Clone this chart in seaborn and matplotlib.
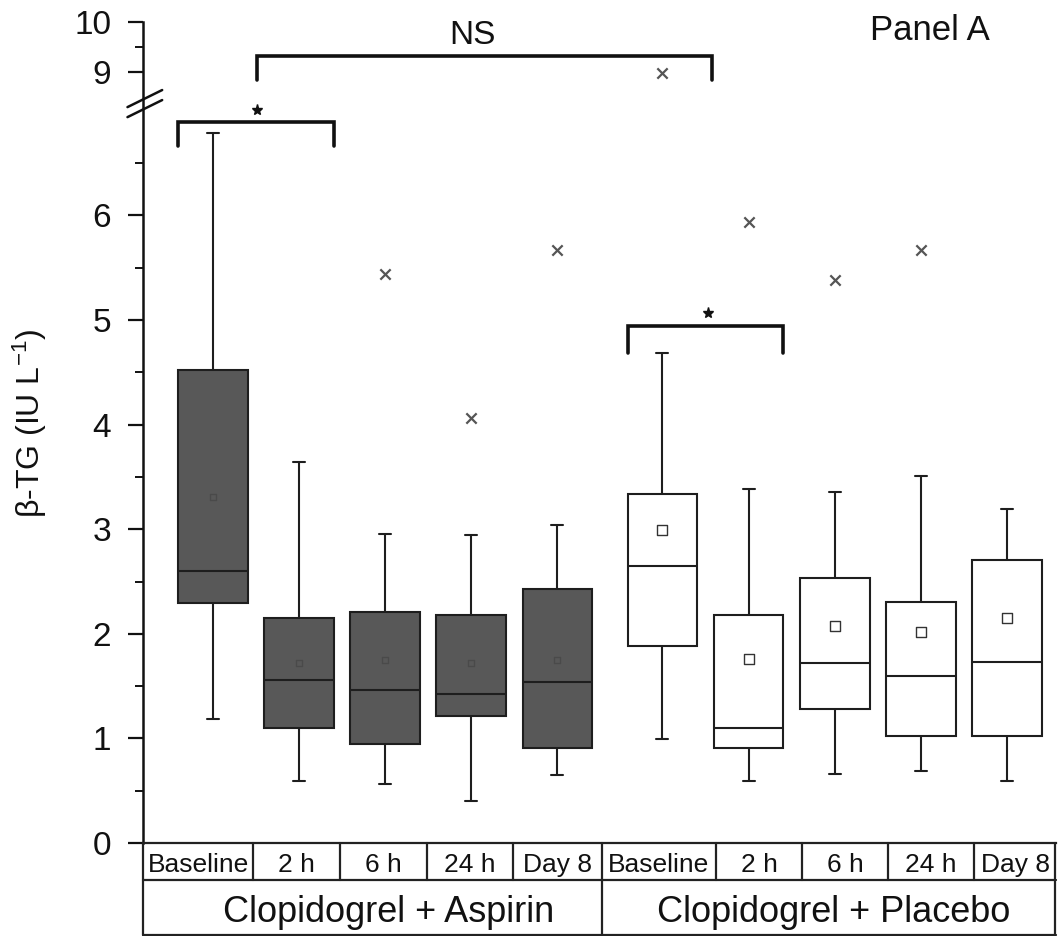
import numpy as np
import pandas as pd
import matplotlib
matplotlib.use("Agg")
import matplotlib.pyplot as plt
import seaborn as sns
from matplotlib.ticker import FixedLocator, FixedFormatter, NullFormatter

# ---------------- data ----------------
times = ["Baseline", "2 h", "6 h", "24 h", "Day 8"]
groups = ["Clopidogrel + Aspirin", "Clopidogrel + Placebo"]

asp_low = [1.19, 0.59, 0.56, 0.40, 0.65]
asp_q1 = [2.29, 1.10, 0.95, 1.21, 0.91]
asp_med = [2.60, 1.56, 1.46, 1.42, 1.54]
asp_q3 = [4.52, 2.15, 2.21, 2.18, 2.43]
asp_high = [6.79, 3.64, 2.95, 2.94, 3.04]
asp_mean = [3.31, 1.72, 1.75, 1.72, 1.75]

pla_low = [0.99, 0.59, 0.66, 0.69, 0.59]
pla_q1 = [1.88, 0.91, 1.28, 1.02, 1.02]
pla_med = [2.65, 1.10, 1.72, 1.60, 1.73]
pla_q3 = [3.34, 2.18, 2.53, 2.30, 2.71]
pla_high = [4.68, 3.38, 3.36, 3.51, 3.19]
pla_mean = [2.99, 1.76, 2.07, 2.02, 2.15]

asp_out_time = ["6 h", "24 h", "Day 8"]
asp_out_val = [5.44, 4.06, 5.67]
pla_out_time = ["Baseline", "2 h", "6 h", "24 h"]
pla_out_val = [8.97, 5.94, 5.38, 5.67]

y_major = [0, 1, 2, 3, 4, 5, 6, 9, 10]
y_minor = [0.5, 1.5, 2.5, 3.5, 4.5, 5.5, 6.5, 9.5]

# ---------------- layout / style ----------------
PLA_OFFSET = 5.22
BOX_W = 0.81
ASP_COLOR = "#585858"
LINE = "#1e1e1e"

asp_pos = np.arange(len(times), dtype=float)
pla_pos = PLA_OFFSET + np.arange(len(times), dtype=float)


def long_frame(pos, lo, q1, med, q3, hi):
    rows = []
    for p, a, b, c, d, e in zip(pos, lo, q1, med, q3, hi):
        for v in (a, b, c, d, e):
            rows.append({"pos": p, "value": v})
    return pd.DataFrame(rows)


df_asp = long_frame(asp_pos, asp_low, asp_q1, asp_med, asp_q3, asp_high)
df_pla = long_frame(pla_pos, pla_low, pla_q1, pla_med, pla_q3, pla_high)

sns.set_theme(style="ticks")
plt.rcParams["font.family"] = ["Liberation Sans", "DejaVu Sans"]
plt.rcParams["mathtext.fontset"] = "custom"
plt.rcParams["mathtext.rm"] = "Liberation Sans"
plt.rcParams["mathtext.it"] = "Liberation Sans:italic"

fig = plt.figure(figsize=(10.58, 9.36), dpi=100)
ax = fig.add_axes([143 / 1058, 93 / 936, 913 / 1058, 821.3 / 936])

box_kw = dict(native_scale=True, whis=(0, 100), width=BOX_W, saturation=1,
              linecolor=LINE, linewidth=1.5, showfliers=False, ax=ax,
              capwidths=0.14)
sns.boxplot(data=df_asp, x="pos", y="value", color=ASP_COLOR, **box_kw)
sns.boxplot(data=df_pla, x="pos", y="value", color="white", **box_kw)

# means
sns.scatterplot(x=asp_pos, y=asp_mean, marker="s", s=25, color=ASP_COLOR,
                edgecolor="#4a4a4a", linewidth=1.0, ax=ax, zorder=6)
sns.scatterplot(x=pla_pos, y=pla_mean, marker="s", s=45, color="white",
                edgecolor="#333333", linewidth=1.0, ax=ax, zorder=6)

# outliers
asp_out_pos = [asp_pos[times.index(t)] for t in asp_out_time]
pla_out_pos = [pla_pos[times.index(t)] for t in pla_out_time]
sns.scatterplot(x=asp_out_pos + pla_out_pos, y=asp_out_val + pla_out_val,
                marker="x", s=55, color="#555555", linewidth=1.6, ax=ax,
                zorder=6)

# broken y scale (lower 0-7 full scale, upper 8.4-10 compressed)
brk_in = np.array([-100.0, 7.05, 8.4, 9.0, 100.0])
brk_out = np.array([-100.0, 7.05, 7.087, 7.374, 7.374 + 91 * 0.478])


def fwd(v):
    return np.interp(v, brk_in, brk_out)


def inv(t):
    return np.interp(t, brk_out, brk_in)


ax.set_yscale("function", functions=(fwd, inv))
ax.set_ylim(0, 10)
ax.set_xlim(-0.813, 9.791)

ax.yaxis.set_major_locator(FixedLocator(y_major))
ax.yaxis.set_major_formatter(FixedFormatter([str(v) for v in y_major]))
ax.yaxis.set_minor_locator(FixedLocator(y_minor))
ax.yaxis.set_minor_formatter(NullFormatter())
ax.tick_params(axis="y", which="major", length=11, width=1.6, pad=12,
               labelsize=24, direction="out", colors="#111111")
ax.tick_params(axis="y", which="minor", length=6, width=1.4,
               direction="out", colors="#111111")
ax.set_xticks([])
ax.set_xlabel("")
ax.set_ylabel("")
for s in ("top", "right"):
    ax.spines[s].set_visible(False)
ax.spines["left"].set_linewidth(1.8)
ax.spines["left"].set_color("#111111")
ax.spines["bottom"].set_linewidth(1.6)
ax.spines["bottom"].set_color("#222222")

# y label
fig.text(30 / 1058, 1 - 423.5 / 936, r"β-TG (IU L$^{-1}$)", rotation=90,
         ha="center", va="center", fontsize=23, color="#111111")

# axis break marks
for dy in (0.0, -0.0122):
    ax.plot([-0.017, 0.021], [0.8960 + dy, 0.9168 + dy], transform=ax.transAxes,
            color="#111111", lw=1.8, clip_on=False, zorder=10)

# significance brackets
half = BOX_W / 2
bx0, bx1 = asp_pos[0] - half, asp_pos[1] + half
ax.plot([bx0, bx0, bx1, bx1], [6.66, 6.89, 6.89, 6.66], color="#111111",
        lw=2.6, solid_joinstyle="miter", zorder=7)
ax.plot([asp_pos[0] + 0.51], [7.01], marker="*", ms=8, color="#111111",
        zorder=7)

px0, px1 = pla_pos[0] - half, pla_pos[1] + half
ax.plot([px0, px0, px1, px1], [4.68, 4.94, 4.94, 4.68], color="#111111",
        lw=2.6, solid_joinstyle="miter", zorder=7)
ax.plot([pla_pos[0] + 0.53], [5.07], marker="*", ms=8, color="#111111",
        zorder=7)

nx0, nx1 = asp_pos[0] + 0.51, pla_pos[0] + 0.58
ax.plot([nx0, nx0, nx1, nx1], [8.83, 9.31, 9.31, 8.83], color="#111111",
        lw=2.6, solid_joinstyle="miter", zorder=7)
ax.text(0.3604, 0.973, "NS", transform=ax.transAxes, ha="center",
        va="baseline", fontsize=24, color="#111111")

ax.text(0.862, 0.9777, "Panel A", transform=ax.transAxes, ha="center",
        va="baseline", fontsize=25, color="#111111")

# category table below the axis
T = ax.transAxes
tl = dict(color="#222222", lw=1.6, clip_on=False, transform=T, zorder=10)
row_mid, row_bot = -0.045, -0.1115
ax.plot([0, 1], [row_mid, row_mid], **tl)
ax.plot([0, 1], [row_bot, row_bot], **tl)
ax.plot([0, 0], [0, row_bot], **tl)
ax.plot([0.999, 0.999], [0, row_bot], **tl)
ax.plot([0.5027, 0.5027], [0, row_bot], **tl)
cell_edges = [0.0, 0.1208, 0.2158, 0.3107, 0.4056, 0.5027,
              0.6276, 0.7218, 0.8160, 0.9102, 1.0]
for xe in cell_edges[1:-1]:
    if xe != 0.5027:
        ax.plot([xe, xe], [0, row_mid], **tl)
labels_row1 = times + times
for i, lab in enumerate(labels_row1):
    xc = (cell_edges[i] + cell_edges[i + 1]) / 2
    ax.text(xc, -0.0349, lab, transform=T, ha="center", va="baseline",
            fontsize=19, color="#111111", clip_on=False)
for xc, g in zip([0.2694, 0.757], groups):
    ax.text(xc, -0.0958, g, transform=T, ha="center", va="baseline",
            fontsize=26, color="#111111", clip_on=False)

fig.savefig("out.png", dpi=100)
